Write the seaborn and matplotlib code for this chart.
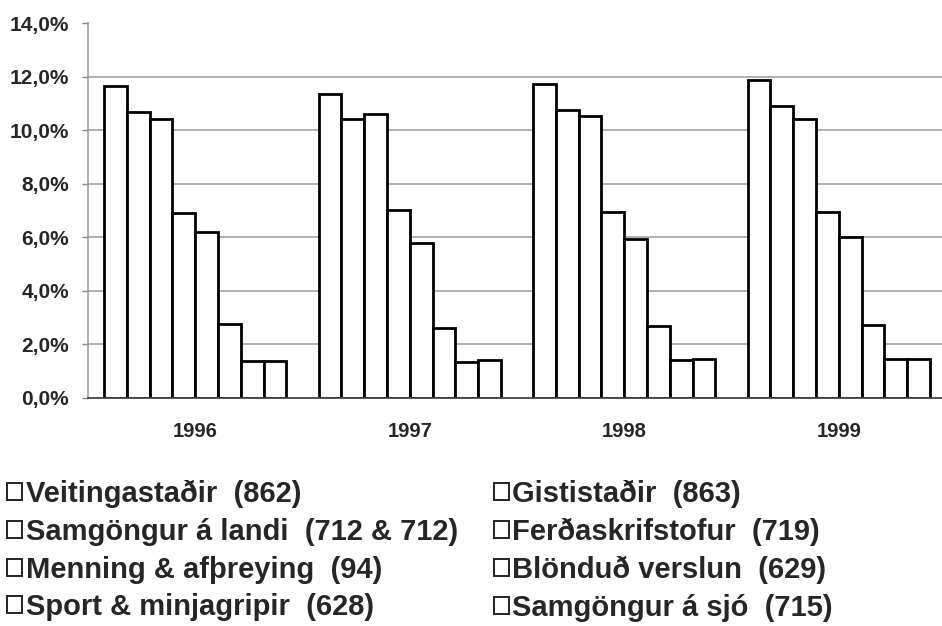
import matplotlib as mpl
mpl.use('agg')
import matplotlib.pyplot as plt
from matplotlib.patches import Patch
from matplotlib.ticker import FuncFormatter, FixedLocator
import numpy as np
import pandas as pd
import seaborn as sns

# Values (percent)
years = ['1996', '1997', '1998', '1999']
categories = ['Veitingastaðir  (862)', 'Gististaðir  (863)',
              'Samgöngur á landi  (712 & 712)', 'Ferðaskrifstofur  (719)',
              'Menning & afþreying  (94)', 'Blönduð verslun  (629)',
              'Sport & minjagripir  (628)', 'Samgöngur á sjó  (715)']
v1996 = [11.66, 10.68, 10.43, 6.91, 6.20, 2.75, 1.39, 1.39]
v1997 = [11.35, 10.40, 10.62, 7.03, 5.79, 2.61, 1.34, 1.41]
v1998 = [11.73, 10.75, 10.51, 6.95, 5.94, 2.69, 1.41, 1.45]
v1999 = [11.88, 10.92, 10.43, 6.93, 6.00, 2.74, 1.44, 1.44]
y_ticks = [0, 2, 4, 6, 8, 10, 12, 14]

rows = []
for yr, vals in zip(years, [v1996, v1997, v1998, v1999]):
    for cat, v in zip(categories, vals):
        rows.append({'year': yr, 'category': cat, 'value': v})
df = pd.DataFrame(rows)

sns.set_style("white")
plt.rcParams['font.family'] = ['Liberation Sans', 'DejaVu Sans']
plt.rcParams['font.weight'] = 'bold'

fig = plt.figure(figsize=(9.42, 6.26), dpi=100)
ax = fig.add_axes([88 / 942, 1 - 398 / 626, (946 - 88) / 942, (398 - 23) / 626])

sns.barplot(data=df, x='year', y='value', hue='category', hue_order=categories,
            order=years, palette=['white'] * len(categories), edgecolor='black',
            linewidth=2.0, width=0.85, saturation=1, legend=False, ax=ax)

ax.set_xlim(-0.5, len(years) - 0.5)
ax.set_ylim(0, 14)
ax.set_yticks(y_ticks)
ax.yaxis.set_major_formatter(FuncFormatter(lambda v, p: f"{v:.1f}%".replace('.', ',')))
for t in y_ticks[1:-1]:
    ax.axhline(t, color='#9a9a9a', lw=1.1, zorder=0)

ax.set_xlabel('')
ax.set_ylabel('')
ax.xaxis.set_minor_locator(FixedLocator(np.arange(-0.5, len(years), 1.0)))
ax.tick_params(axis='x', which='major', length=0, labelsize=14.5, pad=17)
ax.tick_params(axis='x', which='minor', length=4, width=1, color='#777777', direction='out')
ax.tick_params(axis='y', length=4.5, width=1, color='#888888', labelsize=15, pad=9, left=True)
for lab in ax.get_xticklabels() + ax.get_yticklabels():
    lab.set_fontweight('bold')

for side in ['top', 'right']:
    ax.spines[side].set_visible(False)
ax.spines['left'].set_color('#999999')
ax.spines['left'].set_linewidth(1.1)
ax.spines['bottom'].set_color('#444444')
ax.spines['bottom'].set_linewidth(1.3)

# Legend, filled row-wise like the original
handles = [Patch(facecolor='white', edgecolor='#222222', linewidth=1.4) for _ in categories]
order = [0, 2, 4, 6, 1, 3, 5, 7]
fig.legend([handles[i] for i in order], [categories[i] for i in order],
           ncol=2, loc='upper left', bbox_to_anchor=(7 / 942, 1 - 480 / 626),
           frameon=False, borderpad=0, borderaxespad=0,
           prop={'size': 21, 'weight': 'bold'},
           handlelength=0.52, handleheight=0.52, handletextpad=0.12,
           labelspacing=0.33, columnspacing=1.22)

plt.savefig('out.png', dpi=100)
